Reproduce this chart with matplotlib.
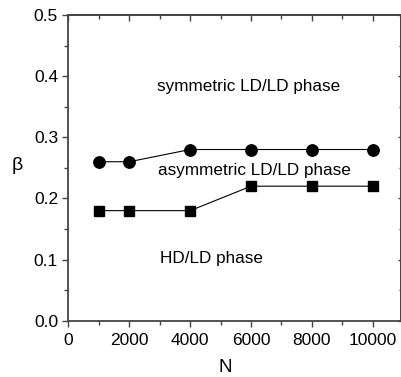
import matplotlib
matplotlib.use("Agg")
import matplotlib.pyplot as plt
from matplotlib.ticker import MultipleLocator, NullFormatter

plt.rcParams['font.family'] = ['Liberation Sans', 'DejaVu Sans']

N = [1000, 2000, 4000, 6000, 8000, 10000]
beta_circle = [0.26, 0.26, 0.28, 0.28, 0.28, 0.28]
beta_square = [0.18, 0.18, 0.18, 0.22, 0.22, 0.22]
xticks = [0, 2000, 4000, 6000, 8000, 10000]
yticks = [0.0, 0.1, 0.2, 0.3, 0.4, 0.5]
labels = ["symmetric LD/LD phase", "asymmetric LD/LD phase", "HD/LD phase"]

W, H = 402, 377
fig = plt.figure(figsize=(W/100, H/100), dpi=100)
L, R, T, B = 68.5, 401, 15, 320.7
XMAX = 10930
ax = fig.add_axes([L/W, 1 - B/H, (R-L)/W, (B-T)/H])

ax.plot(N, beta_circle, '-o', color='black', lw=0.8, ms=8.2)
ax.plot(N, beta_square, '-s', color='black', lw=0.8, ms=7.4)

ax.set_xlim(0, XMAX)
ax.set_ylim(0, 0.5)
ax.set_xticks(xticks)
ax.set_yticks(yticks)
ax.set_yticklabels([f"{v:.1f}" for v in yticks])
ax.xaxis.set_minor_locator(MultipleLocator(1000))
ax.yaxis.set_minor_locator(MultipleLocator(0.05))

spc = '#444444'
for s in ax.spines.values():
    s.set_color(spc)
    s.set_linewidth(1.3)

ax.tick_params(which='both', labelsize=12.5, color=spc, width=1.0, pad=3,
               direction='out')
ax.tick_params(which='major', length=4.5)
ax.tick_params(which='minor', length=3)
ax.tick_params(axis='x', which='both', pad=4)

# mirrored axes with inward ticks
top = ax.secondary_xaxis('top')
top.set_xticks(xticks)
top.xaxis.set_minor_locator(MultipleLocator(1000))
top.xaxis.set_major_formatter(NullFormatter())
top.tick_params(which='both', direction='in', color=spc, width=1.0)
top.tick_params(which='major', length=4.5)
top.tick_params(which='minor', length=3)
top.spines['top'].set_color(spc)
top.spines['top'].set_linewidth(1.3)

right = ax.secondary_yaxis('right')
right.set_yticks(yticks)
right.yaxis.set_minor_locator(MultipleLocator(0.05))
right.yaxis.set_major_formatter(NullFormatter())
right.tick_params(which='both', direction='inout', color=spc, width=1.0)
right.tick_params(which='major', length=5)
right.tick_params(which='minor', length=3.5)
right.spines['right'].set_color(spc)
right.spines['right'].set_linewidth(1.3)

ax.set_xlabel('N', fontsize=13.5)
ax.xaxis.set_label_coords(0.47, -0.125)
ax.set_ylabel('β', fontsize=14, rotation=0)
ax.yaxis.set_label_coords(-0.155, 0.48)

def data_xy(px, py):
    x = (px - L) / (R - L) * XMAX
    y = (B - py) / (B - T) * 0.5
    return x, y

for txt, (px, py) in zip(labels, [(157, 86), (158, 170), (160, 259)]):
    x, y = data_xy(px, py)
    ax.text(x, y, txt, fontsize=12.3, ha='left', va='center')

fig.savefig('out.png', dpi=100)
